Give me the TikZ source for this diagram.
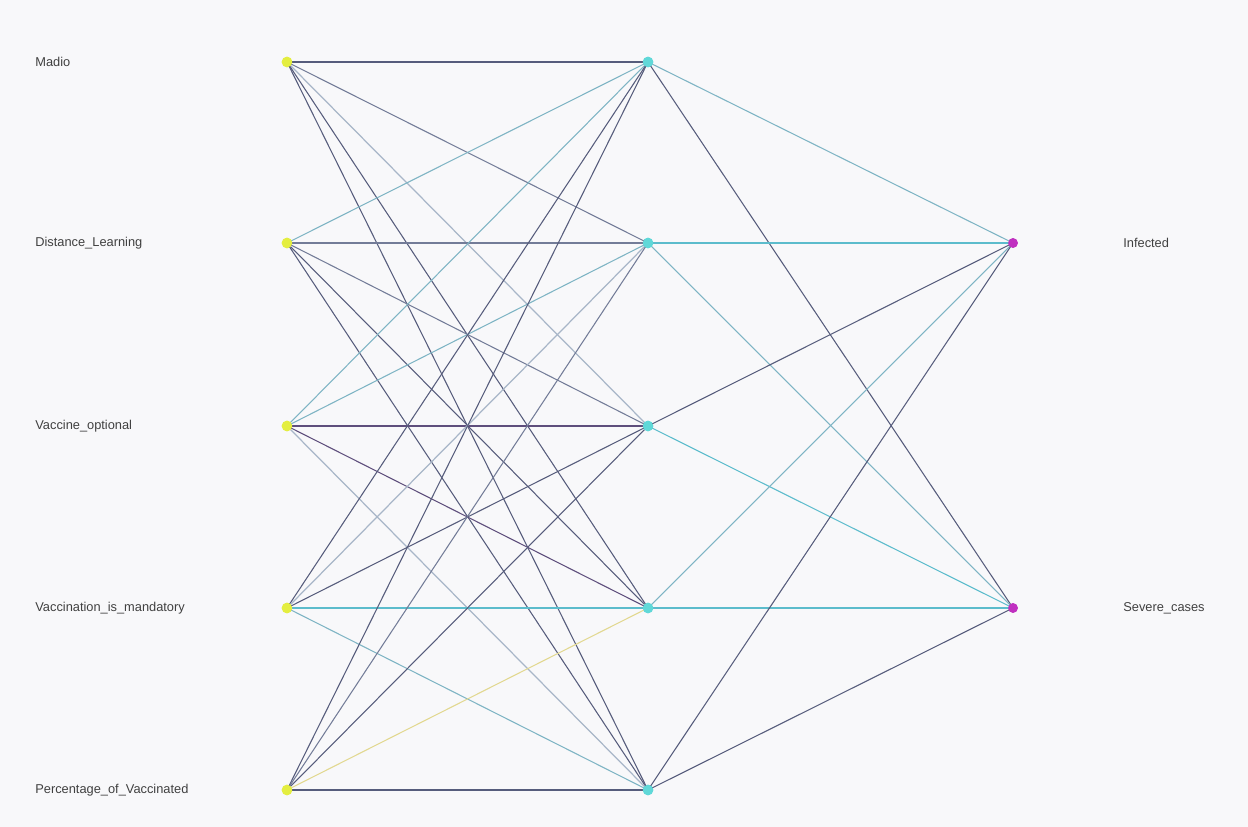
\documentclass[tikz,border=0pt]{standalone}
\usepackage{fontspec}
\setmainfont{Liberation Sans}
\begin{document}
\begin{tikzpicture}[x=0.02cm,y=-0.02cm,
  dk/.style={draw=dkc,line width=0.6pt},
  md/.style={draw=mdc,line width=0.6pt},
  lt/.style={draw=ltc,line width=0.7pt},
  tl/.style={draw=tlc,line width=0.6pt},
  cy/.style={draw=cyc,line width=0.6pt},
  pu/.style={draw=puc,line width=0.6pt},
  ye/.style={draw=yec,line width=0.6pt},
  inp/.style={circle,fill=inc,inner sep=0pt,minimum size=6pt},
  hid/.style={circle,fill=hic,inner sep=0pt,minimum size=6pt},
  outp/.style={circle,fill=ouc,inner sep=0pt,minimum size=5.5pt},
  lab/.style={anchor=west,inner sep=0pt,font=\fontsize{7.3}{9}\selectfont,text=labc}]
\definecolor{bgc}{HTML}{F8F8FA}
\definecolor{dkc}{HTML}{565C7C}
\definecolor{mdc}{HTML}{737C98}
\definecolor{ltc}{HTML}{A8B6C8}
\definecolor{tlc}{HTML}{7EB4C4}
\definecolor{cyc}{HTML}{5CBCCC}
\definecolor{puc}{HTML}{5E4E7C}
\definecolor{yec}{HTML}{E2D890}
\definecolor{inc}{HTML}{E4EE40}
\definecolor{hic}{HTML}{60D8D8}
\definecolor{ouc}{HTML}{C030C0}
\definecolor{labc}{HTML}{404040}
\fill[bgc] (0,0) rectangle (1248,827);
\useasboundingbox (0,0) rectangle (1248,827);
% nodes
\node[inp] (i1) at (287,62) {};
\node[inp] (i2) at (287,243) {};
\node[inp] (i3) at (287,426) {};
\node[inp] (i4) at (287,608) {};
\node[inp] (i5) at (287,790) {};
\node[hid] (h1) at (648,62) {};
\node[hid] (h2) at (648,243) {};
\node[hid] (h3) at (648,426) {};
\node[hid] (h4) at (648,608) {};
\node[hid] (h5) at (648,790) {};
\node[outp] (o1) at (1013,243) {};
\node[outp] (o2) at (1013,608) {};
% edges input -> hidden
\draw[dk] (i1.center) -- (h1.center);
\draw[md] (i1.center) -- (h2.center);
\draw[lt] (i1.center) -- (h3.center);
\draw[dk] (i1.center) -- (h4.center);
\draw[dk] (i1.center) -- (h5.center);
\draw[tl] (i2.center) -- (h1.center);
\draw[md] (i2.center) -- (h2.center);
\draw[md] (i2.center) -- (h3.center);
\draw[dk] (i2.center) -- (h4.center);
\draw[dk] (i2.center) -- (h5.center);
\draw[tl] (i3.center) -- (h1.center);
\draw[tl] (i3.center) -- (h2.center);
\draw[pu] (i3.center) -- (h3.center);
\draw[pu] (i3.center) -- (h4.center);
\draw[lt] (i3.center) -- (h5.center);
\draw[dk] (i4.center) -- (h1.center);
\draw[lt] (i4.center) -- (h2.center);
\draw[dk] (i4.center) -- (h3.center);
\draw[cy] (i4.center) -- (h4.center);
\draw[tl] (i4.center) -- (h5.center);
\draw[dk] (i5.center) -- (h1.center);
\draw[md] (i5.center) -- (h2.center);
\draw[dk] (i5.center) -- (h3.center);
\draw[ye] (i5.center) -- (h4.center);
\draw[dk] (i5.center) -- (h5.center);
% hidden -> output
\draw[tl] (h1.center) -- (o1.center);
\draw[dk] (h1.center) -- (o2.center);
\draw[cy] (h2.center) -- (o1.center);
\draw[tl] (h2.center) -- (o2.center);
\draw[dk] (h3.center) -- (o1.center);
\draw[cy] (h3.center) -- (o2.center);
\draw[tl] (h4.center) -- (o1.center);
\draw[cy] (h4.center) -- (o2.center);
\draw[dk] (h5.center) -- (o1.center);
\draw[dk] (h5.center) -- (o2.center);
% redraw dots on top
\foreach \n in {i1,i2,i3,i4,i5} \fill[inc] (\n) circle (3pt);
\foreach \n in {h1,h2,h3,h4,h5} \fill[hic] (\n) circle (3pt);
\foreach \n in {o1,o2} \fill[ouc] (\n) circle (2.75pt);
% labels
\node[lab] (l1) at (35,62) {Madio};
\node[lab] (l2) at (35,243) {Distance\_Learning};
\node[lab] (l3) at (35,426) {Vaccine\_optional};
\node[lab] (l4) at (35,608) {Vaccination\_is\_mandatory};
\node[lab] (l5) at (35,790) {Percentage\_of\_Vaccinated};
\node[lab] (l6) at (1123,243) {Infected};
\node[lab] (l7) at (1123,608) {Severe\_cases};
\end{tikzpicture}
\end{document}
